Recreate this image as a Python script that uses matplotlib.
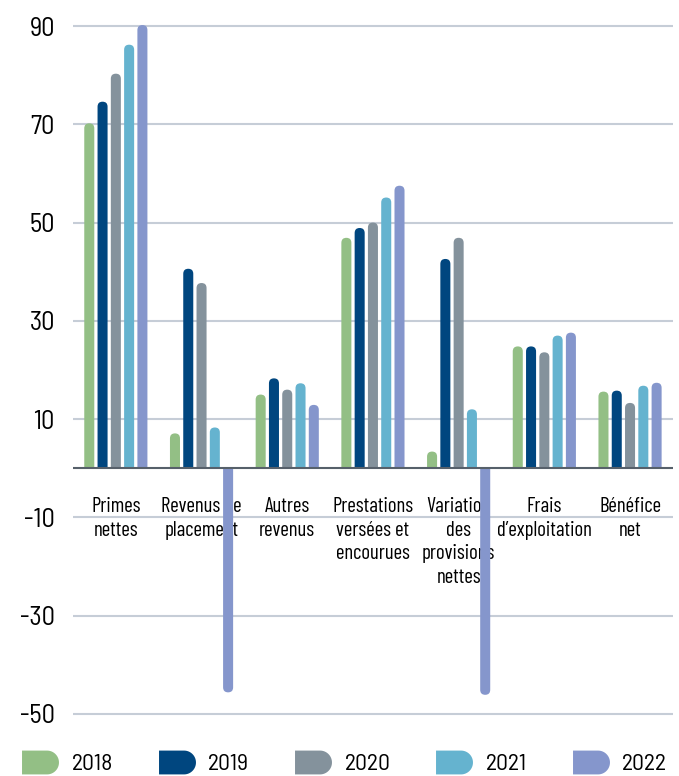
import numpy as np
import matplotlib.pyplot as plt
from matplotlib.patches import FancyBboxPatch, Rectangle
from matplotlib.path import Path
from matplotlib.lines import Line2D

# data
categories = ["Primes\nnettes", "Revenus de\nplacement", "Autres\nrevenus",
              "Prestations\nversées et\nencourues", "Variation\ndes\nprovisions\nnettes",
              "Frais\nd\u2019exploitation", "Bénéfice\nnet"]
years = ["2018", "2019", "2020", "2021", "2022"]
v2018 = [70.2, 7.1, 15.0, 46.9, 3.4, 24.8, 15.6]
v2019 = [74.6, 40.6, 18.3, 48.9, 42.6, 24.8, 15.8]
v2020 = [80.3, 37.7, 16.0, 50.0, 46.9, 23.6, 13.3]
v2021 = [86.2, 8.3, 17.3, 55.1, 12.0, 27.0, 16.8]
v2022 = [90.2, -45.6, 12.9, 57.5, -46.1, 27.6, 17.4]
yticks = [-50, -30, -10, 10, 30, 50, 70, 90]

colors = ["#93bf85", "#00467f", "#84929c", "#65b3cf", "#8596cc"]

plt.rcParams['font.family'] = ['Barlow Condensed', 'DejaVu Sans']
plt.rcParams['axes.unicode_minus'] = False
num_font = ['Barlow Semi Condensed', 'DejaVu Sans']

fig = plt.figure(figsize=(6.79, 7.76), dpi=100)
ax = fig.add_axes([0.1075, 0.0736, 0.8835, 0.8992])
ax.set_xlim(-0.5, 6.5)
ax.set_ylim(-51, 91)

x = np.arange(len(categories))
bar_w = 0.117
step = 0.155
series = [v2018, v2019, v2020, v2021, v2022]

# ratio of pixels per x unit to pixels per y unit, for circular caps
(px_x, px_y) = ax.transData.transform((1, 1)) - ax.transData.transform((0, 0))
aspect = px_x / px_y

for j, (vals, c) in enumerate(zip(series, colors)):
    bars = ax.bar(x + (j - 2) * step, vals, bar_w, color=c)
    for b, v in zip(bars, vals):
        b.set_visible(False)
        x0, w = b.get_x(), b.get_width()
        ry = w / 2 * aspect
        if v >= 0:
            y0, hh = -ry, v + ry
            clip = Rectangle((-1, 0), 10, 200, transform=ax.transData)
        else:
            y0, hh = v, -v + ry
            clip = Rectangle((-1, -200), 10, 200, transform=ax.transData)
        p = FancyBboxPatch((x0, y0), w, hh,
                           boxstyle=f"round,pad=0,rounding_size={w / 2}",
                           mutation_aspect=aspect, fc=c, ec='none', zorder=3)
        ax.add_patch(p)
        p.set_clip_path(clip)

ax.axhline(0, color='#56606a', lw=1.5, zorder=4)
ax.set_yticks(yticks)
ax.set_xticks([])
ax.grid(axis='y', color='#c6cdd7', lw=1.5, zorder=0)
ax.set_axisbelow(True)
ax.tick_params(axis='y', length=0, pad=13, labelsize=19)
for lbl in ax.get_yticklabels():
    lbl.set_family(num_font)
for s in ax.spines.values():
    s.set_visible(False)

for i, cat in enumerate(categories):
    ax.annotate(cat, (i, 0), xytext=(0, -21), textcoords='offset points',
                ha='center', va='top', fontsize=15, linespacing=1.3, zorder=2)

# legend with half-rounded swatches
theta = np.radians(np.linspace(-90, 90, 40))
verts = [(-1.55, -1.0), (0.55, -1.0)]
verts += [(0.55 + np.cos(t), np.sin(t)) for t in theta]
verts += [(-1.55, 1.0), (-1.55, -1.0)]
swatch = Path(verts, closed=True)

handles = [Line2D([], [], ls='none', marker=swatch, markersize=26.6,
                  mfc=c, mec='none') for c in colors]
fig.legend(handles, years, loc='center left', bbox_to_anchor=(22 / 679, 1 - 764 / 776),
           ncol=5, frameon=False, handlelength=1.56, handletextpad=0.55,
           columnspacing=1.92, borderpad=0, borderaxespad=0, numpoints=1,
           prop={'family': num_font, 'size': 17})

fig.savefig("out.png", dpi=100)
